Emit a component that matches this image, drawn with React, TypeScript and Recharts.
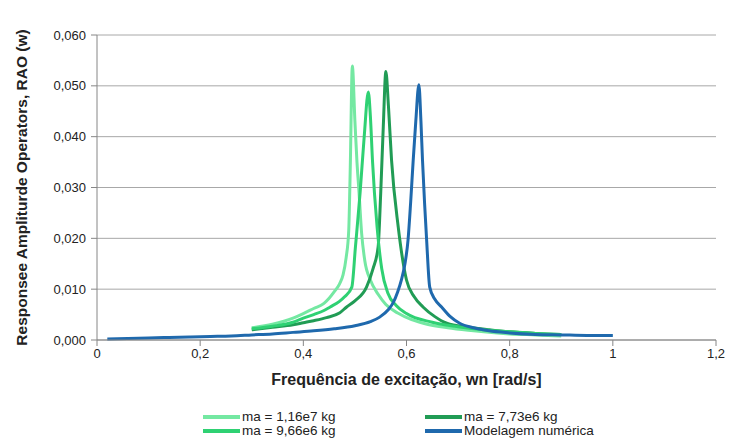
import React from "react";
import { LineChart, Line, CartesianGrid, XAxis, YAxis, Legend } from "recharts";

// frequency [rad/s] and RAO, one pair of arrays per series
const freqMa116 = [0.3, 0.34, 0.38, 0.4, 0.42, 0.44, 0.45, 0.46, 0.47, 0.477, 0.483, 0.488, 0.491, 0.495, 0.5, 0.504, 0.508, 0.513, 0.519, 0.53, 0.545, 0.56, 0.583, 0.61, 0.64, 0.68, 0.72, 0.76, 0.8, 0.85, 0.9];
const raoMa116 = [0.0024, 0.0031, 0.0043, 0.0052, 0.0062, 0.0072, 0.0082, 0.0095, 0.011, 0.0128, 0.0162, 0.0215, 0.034, 0.0539, 0.043, 0.035, 0.029, 0.021, 0.0157, 0.0118, 0.009, 0.007, 0.0053, 0.004, 0.0031, 0.0024, 0.0019, 0.0015, 0.0012, 0.001, 0.0008];

const freqMa966 = [0.3, 0.34, 0.38, 0.4, 0.42, 0.44, 0.452, 0.47, 0.48, 0.494, 0.501, 0.51, 0.518, 0.526, 0.53, 0.534, 0.543, 0.552, 0.564, 0.58, 0.6, 0.65, 0.7, 0.75, 0.8, 0.85, 0.9];
const raoMa966 = [0.0022, 0.0027, 0.0035, 0.0043, 0.005, 0.0058, 0.0065, 0.0076, 0.0085, 0.0104, 0.0183, 0.0289, 0.04, 0.0488, 0.044, 0.0354, 0.0222, 0.014, 0.0092, 0.0068, 0.0052, 0.0035, 0.0026, 0.002, 0.0016, 0.0013, 0.0011];

const freqMa773 = [0.3, 0.34, 0.38, 0.4, 0.42, 0.445, 0.47, 0.484, 0.5, 0.5225, 0.535, 0.545, 0.55, 0.555, 0.56, 0.565, 0.571, 0.584, 0.6, 0.615, 0.632, 0.655, 0.678, 0.72, 0.76, 0.8, 0.85, 0.9];
const raoMa773 = [0.002, 0.0025, 0.003, 0.0034, 0.0038, 0.0044, 0.0053, 0.0065, 0.0077, 0.0104, 0.014, 0.0183, 0.0289, 0.042, 0.0528, 0.046, 0.0354, 0.0222, 0.0118, 0.0085, 0.0065, 0.0046, 0.0033, 0.0025, 0.002, 0.0016, 0.0013, 0.0011];

const freqNum = [0.02, 0.06, 0.1, 0.14, 0.18, 0.22, 0.26, 0.3, 0.34, 0.38, 0.42, 0.46, 0.5, 0.53, 0.548, 0.565, 0.574, 0.583, 0.59, 0.597, 0.603, 0.608, 0.613, 0.618, 0.624, 0.628, 0.631, 0.635, 0.639, 0.645, 0.655, 0.668, 0.685, 0.703, 0.73, 0.76, 0.8, 0.85, 0.9, 0.95, 1.0];
const raoNum = [0.0002, 0.0003, 0.0004, 0.0005, 0.0006, 0.0007, 0.0008, 0.001, 0.0012, 0.0015, 0.0018, 0.0022, 0.0028, 0.0036, 0.0045, 0.006, 0.0073, 0.0095, 0.0118, 0.015, 0.0197, 0.027, 0.0354, 0.043, 0.0502, 0.043, 0.0354, 0.027, 0.0197, 0.0104, 0.008, 0.0065, 0.0046, 0.0033, 0.0024, 0.0018, 0.0014, 0.0011, 0.001, 0.0009, 0.0009];

const xTicks = [0, 0.2, 0.4, 0.6, 0.8, 1.0, 1.2];
const yTicks = [0, 0.01, 0.02, 0.03, 0.04, 0.05, 0.06];

const toPoints = (xs: number[], ys: number[]) => xs.map((x, i) => ({ x, y: ys[i] }));

const series = [
  { name: "ma = 1,16e7 kg", color: "#74e8a2", data: toPoints(freqMa116, raoMa116) },
  { name: "ma = 7,73e6 kg", color: "#219c55", data: toPoints(freqMa773, raoMa773) },
  { name: "ma = 9,66e6 kg", color: "#2fd173", data: toPoints(freqMa966, raoMa966) },
  { name: "Modelagem numérica", color: "#1f69ad", data: toPoints(freqNum, raoNum) },
];

const font = "'Liberation Sans', Arial, sans-serif";

function ChartLegend() {
  return (
    <div style={{ display: "grid", gridTemplateColumns: "222px 222px", height: 28, fontFamily: font, fontSize: 13.5, lineHeight: "14px", color: "#222" }}>
      {series.map((s) => (
        <div key={s.name} style={{ display: "flex", alignItems: "center", height: 14 }}>
          <span style={{ display: "inline-block", width: 37, height: 4, background: s.color, marginRight: 2 }} />
          <span>{s.name}</span>
        </div>
      ))}
    </div>
  );
}

export default function App() {
  return (
    <div style={{ position: "absolute", left: 0, top: 0, background: "#fff" }}>
      <LineChart width={752} height={444} margin={{ top: 35, right: 36, left: 0, bottom: 26 }}>
        <CartesianGrid vertical={false} stroke="#a8a8a8" />
        <XAxis
          type="number"
          dataKey="x"
          domain={[0, 1.2]}
          ticks={xTicks}
          height={50}
          tickSize={6}
          tickMargin={3}
          stroke="#868686"
          tick={{ fill: "#222", fontSize: 13, fontFamily: font }}
          tickFormatter={(v: number) => String(Number(v.toFixed(1))).replace(".", ",")}
          label={{ value: "Frequência de excitação, wn [rad/s]", position: "insideBottom", offset: 5, style: { fontWeight: "bold", fontSize: 16, fill: "#222", fontFamily: font } }}
        />
        <YAxis
          type="number"
          domain={[0, 0.06]}
          ticks={yTicks}
          width={97}
          tickSize={6}
          tickMargin={5}
          stroke="#868686"
          tick={{ fill: "#222", fontSize: 13, fontFamily: font }}
          tickFormatter={(v: number) => v.toFixed(3).replace(".", ",")}
          label={{ value: "Responsee Ampliturde Operators, RAO (w)", angle: -90, position: "insideLeft", offset: 21, style: { textAnchor: "middle", fontWeight: "bold", fontSize: 15.5, fill: "#222", fontFamily: font } }}
        />
        <Legend content={() => <ChartLegend />} wrapperStyle={{ left: 203, top: 410, width: 460 }} />
        {series.map((s) => (
          <Line
            key={s.name}
            data={s.data}
            dataKey="y"
            name={s.name}
            type="monotone"
            stroke={s.color}
            strokeWidth={3}
            dot={false}
            isAnimationActive={false}
          />
        ))}
      </LineChart>
    </div>
  );
}
